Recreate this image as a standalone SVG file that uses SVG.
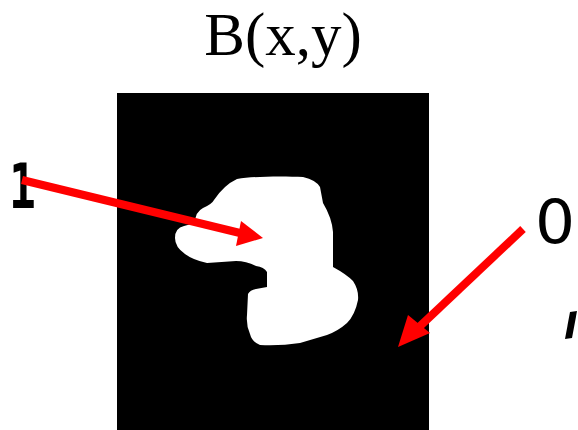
<svg xmlns="http://www.w3.org/2000/svg" width="578" height="430" viewBox="0 0 578 430">
<style>
.lbl{fill:#000}
.arrow{stroke:#ff0000;stroke-width:8;fill:none}
.head{fill:#ff0000}
</style>
<rect width="578" height="430" fill="#fff"/>
<g id="title"><text class="lbl" x="283" y="55" text-anchor="middle" font-family="Liberation Serif, serif" font-size="61">B(x,y)</text></g>
<g id="image">
<rect x="117" y="93" width="312" height="337" fill="#000"/>
<path fill="#fff" d="M237,179 C255,176 285,176 303,177 Q316,180 320,187 L323,203 Q332,218 333,232 L333,267 Q346,274 353,281 Q359,290 358,300 Q355,315 347,323 Q338,331 327,335 L300,343 Q280,346 260,345 Q252,342 250,334 Q246,325 247,315 L248,294 Q250,290 256,289 L267,287 L267,272 Q264,267 256,266 Q246,261 236,261 L207,263 Q193,260 185,254 Q175,247 175,238 Q175,228 184,226 L195,223 Q195,212 203,208 Q212,204 214,200 Q224,185 237,179 Z"/>
</g>
<g id="label-1"><text class="lbl" transform="translate(9,208) scale(0.72,1)" font-family="DejaVu Sans Mono, monospace" font-weight="bold" font-size="62">1</text></g>
<g id="label-0"><text class="lbl" transform="translate(535,243) scale(1.05,1)" font-family="DejaVu Sans, sans-serif" font-size="60">0</text></g>
<path d="M570,312 L577,311 L575,322 L572,338 L565,339 Z" fill="#000"/>
<g id="connectors">
<line class="arrow" x1="22" y1="180" x2="240" y2="233"/>
<polygon class="head" points="263,238 236,246 241,221"/>
<line class="arrow" x1="523" y1="229" x2="417" y2="329"/>
<polygon class="head" points="398,347 408,315 430,333"/>
</g>
</svg>
